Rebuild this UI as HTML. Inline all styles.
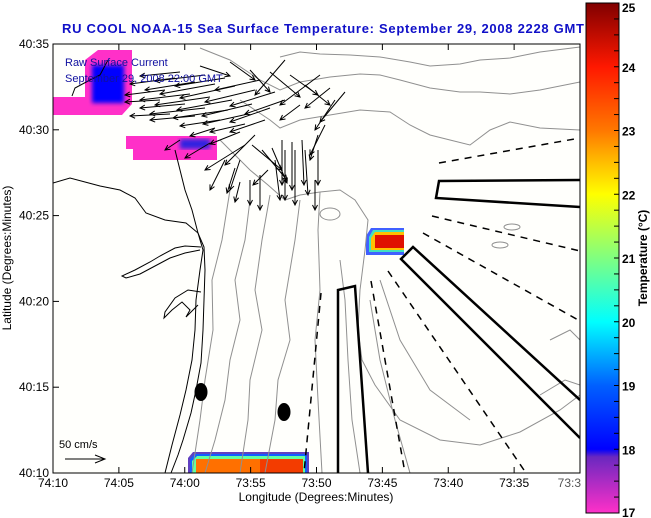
<!DOCTYPE html>
<html><head><meta charset="utf-8"><style>
html,body{margin:0;padding:0;background:#fff;width:651px;height:518px;overflow:hidden}
svg{display:block;font-family:"Liberation Sans",Arial,sans-serif}
</style></head><body>
<svg id="chart" width="651" height="518" viewBox="0 0 651 518">
<defs>
<linearGradient id="cmap" x1="0" y1="1" x2="0" y2="0">
<stop offset="0" stop-color="#ff30c8"/><stop offset="0.11" stop-color="#6a28c0"/>
<stop offset="0.125" stop-color="#0000ff"/><stop offset="0.25" stop-color="#0060ff"/>
<stop offset="0.375" stop-color="#00ffff"/><stop offset="0.5" stop-color="#80ff80"/>
<stop offset="0.625" stop-color="#ffff00"/><stop offset="0.7" stop-color="#ffb000"/>
<stop offset="0.75" stop-color="#ff7800"/><stop offset="0.875" stop-color="#ff1800"/>
<stop offset="1" stop-color="#800000"/>
</linearGradient>
<filter id="blur"><feGaussianBlur stdDeviation="2"/></filter>
<clipPath id="pclip"><rect x="53" y="44" width="527" height="429"/></clipPath>
</defs>
<text x="62" y="33" font-size="13" font-weight="bold" fill="#1010c8" textLength="522" lengthAdjust="spacing">RU COOL  NOAA-15  Sea Surface Temperature:  September 29, 2008 2228 GMT</text>
<rect x="53" y="44" width="527" height="429" fill="#fffffc"/>
<g clip-path="url(#pclip)">
<g>
<path d="M53,97 L85,97 L85,60 L98,50 L132,50 L132,104 L122,115 L53,115 Z" fill="#ff30c8"/>
<rect x="92" y="65" width="32" height="38" fill="#0000ff" filter="url(#blur)"/>
</g>
<g>
<path d="M126,136 L217,136 L217,160 L133,160 L133,149 L126,149 Z" fill="#ff30c8"/>
<rect x="180" y="139" width="30" height="10" fill="#3020e0" filter="url(#blur)"/>
</g>
<g>
<path d="M371,228 L404,228 L404,255 L366,255 L366,236 Z" fill="#4060ff"/>
<path d="M373,230 L404,230 L404,252 L369,252 L369,237 Z" fill="#40e0c0"/>
<path d="M375,232 L404,232 L404,250 L371,250 L371,238 Z" fill="#ffc000"/>
<rect x="375" y="235" width="29" height="13" fill="#e01000"/>
</g>
<g>
<path d="M193,452 L309,452 L309,473 L188,473 L188,458 Z" fill="#6040c0"/>
<path d="M195,454 L307,454 L307,473 L190,473 L190,459 Z" fill="#1060ff"/>
<path d="M197,456 L305,456 L305,473 L192,473 L192,461 Z" fill="#60ffa0"/>
<rect x="196" y="459" width="107" height="14" fill="#ff7000"/>
<rect x="260" y="459" width="43" height="14" fill="#f03000" opacity="0.8"/>
</g>
<g fill="none" stroke="#909090" stroke-width="1">
<path d="M280,57 L300,52 L320,54 L350,55 L380,57 L410,62 L430,66 L460,64 L480,60 L510,58 L540,52 L580,47"/>
<path d="M200,48 L230,60 L260,80 L280,90 L300,82 L330,77 L360,74 L380,75 L400,80 L430,88 L460,92 L480,92 L510,94 L540,90 L580,82"/>
<path d="M240,100 L270,120 L280,128 L300,120 L330,115 L360,110 L390,112 L410,125 L430,135 L450,140 L470,145 L490,130 L510,122 L540,128 L580,130"/>
<path d="M220,140 L250,170 L268,185 L285,200 L300,195 L320,192 L340,190 L355,200 L368,220 L365,250 L360,290 L358,330 L362,360 L375,385 L400,420 L440,440 L480,445 L520,432 L560,410 L580,395"/>
<path d="M230,190 L222,240 L212,280 L213,330 L205,380 L200,420 L192,473"/>
<path d="M250,200 L245,240 L235,280 L240,320 L230,360 L225,400 L215,440 L205,473"/>
<path d="M270,195 L262,240 L255,290 L262,330 L250,380 L248,420 L240,473"/>
<path d="M300,200 L295,240 L285,300 L290,340 L278,380 L275,420 L265,473"/>
<path d="M320,192 L318,230 L320,290 L315,340 L318,400 L322,473"/>
<path d="M340,260 L345,300 L348,360 L352,420 L360,473"/>
<path d="M370,300 L380,360 L395,420 L410,473"/>
<path d="M380,280 L400,340 L430,390 L470,420"/>
<path d="M550,340 L570,330 L580,340 M540,395 L565,380 L580,385"/>
<ellipse cx="330" cy="214" rx="10" ry="6"/>
<ellipse cx="512" cy="227" rx="8" ry="3"/><ellipse cx="500" cy="245" rx="8" ry="3"/>
</g>
<g fill="none" stroke="#000" stroke-width="1">
<path d="M53,183 L70,178 L85,182 L100,186 L120,190 L135,198 L146,213 L165,220 L186,223 L198,233 L204,247 L205,270 L204,300 L203,330 L201,363 L196,390 L191,413 L183,440 L178,455 L171,473"/>
<path d="M198,233 L203,250 L200,270 L196,300 L195,330 L192,360 L186,390 L180,415 L172,445 L165,473"/>
<path d="M201,247 L185,246 L175,248 L160,256 L150,262 L135,270 L122,276 L126,278 L140,274 L155,266 L170,258 L185,253 L200,250"/>
<path d="M201,292 L188,290 L175,298 L165,312 L164,318 L172,310 L182,302 L190,310 L186,317 L198,305"/>
<path d="M175,150 L180,170 L185,190 L192,210 L198,233"/>
<path d="M108,60 L100,75 L90,80 L75,88 L72,96"/>
</g>
<g fill="none" stroke="#000">
<path d="M580,180 L439,181 L436,198 L580,207" stroke-width="2.5"/>
<path d="M580,400 L413,247 L401,259 L580,438" stroke-width="2.5"/>
<path d="M338,473 L338,290 L355,286 L368,473" stroke-width="2.5"/>
<g stroke-width="1.5" stroke-dasharray="7,6">
<path d="M439,163 L580,138"/>
<path d="M432,216 L580,251"/>
<path d="M423,233 L580,321"/>
<path d="M388,271 L526,473"/>
<path d="M371,281 L405,473"/>
<path d="M321,293 L304,473"/>
</g>
</g>
<ellipse cx="201" cy="392" rx="6.5" ry="9" fill="#000"/>
<ellipse cx="284" cy="412" rx="6.5" ry="9" fill="#000"/>
<g id="arrows" stroke="#000" stroke-width="1" fill="none"></g>
<text x="65" y="66" font-size="11" fill="#1010a0">Raw Surface Current</text>
<text x="65" y="82" font-size="11" fill="#1010a0">September 29, 2008 22:00 GMT</text>
<text x="59" y="448" font-size="11" fill="#000">50 cm/s</text>
<path d="M65,459 L105,459 M95,455 L105,459 L95,463" stroke="#000" fill="none"/>
</g>
<rect x="53" y="44" width="527" height="429" fill="none" stroke="#000" stroke-width="1"/>
<g id="axes" font-size="12" fill="#000"></g>
<text x="316" y="501" font-size="12" text-anchor="middle">Longitude (Degrees:Minutes)</text>
<text transform="translate(11,258) rotate(-90)" font-size="12" text-anchor="middle">Latitude (Degrees:Minutes)</text>
<rect x="586" y="3" width="33" height="510" fill="url(#cmap)" stroke="#000" stroke-width="1"/>
<g id="cbar"></g>
<text transform="translate(647,258) rotate(-90)" font-size="12" font-weight="bold" text-anchor="middle">Temperature (°C)</text>
</svg>
<script>
var latTicks=["40:35","40:30","40:25","40:20","40:15","40:10"];
var latVals=[35,30,25,20,15,10];
var lonTicks=["74:10","74:05","74:00","73:55","73:50","73:45","73:40","73:35","73:3"];
var lonVals=[10,5,0,-5,-10,-15,-20,-25,-30];
var cbarTicks=[17,18,19,20,21,22,23,24,25];
var NS="http://www.w3.org/2000/svg";
function yLat(v){return 473-(v-10)*(429/25);}
function xLon(v){return 53+(10-v)*(527/40);}
function yT(t){return 513-(t-17)*(510/8);}
function mk(tag,attrs,parent){var e=document.createElementNS(NS,tag);for(var k in attrs)e.setAttribute(k,attrs[k]);parent.appendChild(e);return e;}
var ax=document.getElementById('axes');
latVals.forEach(function(v,i){var y=yLat(v);
var t=mk('line',{x1:53,x2:59,y1:y,y2:y,stroke:'#000'},ax);


var l=mk('text',{x:49,y:y+4,'text-anchor':'end'},ax);l.textContent=latTicks[i];


});
lonVals.forEach(function(v,i){var x=xLon(v);
var t=mk('line',{x1:x,x2:x,y1:473,y2:467,stroke:'#000'},ax);


var t2=mk('line',{x1:x,x2:x,y1:44,y2:50,stroke:'#000'},ax);


var l=mk('text',{x:x,y:487,'text-anchor':(i==lonVals.length-1?'end':'middle')},ax);l.textContent=lonTicks[i];
if(i==lonVals.length-1){l.setAttribute('x',581);l.setAttribute('fill','#555');}


});
var cb=document.getElementById('cbar');
for(var s=17;s<=25.001;s+=0.25){var y=yT(s);
var t=mk('line',{x1:614,x2:619,y1:y,y2:y,stroke:'#000'},cb);

}
cbarTicks.forEach(function(v){var y=yT(v);
var l=mk('text',{x:622,y:Math.min(Math.max(y+5,12),517),'font-size':12,'font-weight':'bold'},cb);l.textContent=v;

});
var vecs=[
[175,78,-45,6],[195,82,-50,8],[215,84,-55,10],[235,86,-55,12],[255,90,-50,12],[275,92,-45,14],
[165,90,-40,5],[190,94,-50,6],[210,97,-55,8],[232,100,-55,10],[252,104,-50,12],[270,108,-40,14],
[160,100,-35,2],[185,104,-45,4],[205,108,-55,6],[228,110,-55,8],[248,114,-45,10],[265,120,-35,12],
[170,114,-40,2],[195,116,-45,4],[220,120,-40,6],[245,124,-35,8],
[180,72,-40,4],[205,75,-50,6],[225,78,-50,8],[260,80,-45,10],[285,100,-40,14],
[200,66,30,10],[230,62,25,18],[250,70,20,22],[270,72,30,25],[290,75,28,20],[305,85,25,20],
[320,75,-40,30],[330,88,-25,20],[285,60,-30,35],[300,105,-20,15],
[215,128,-25,8],[240,132,-30,12],[180,140,-15,10],[210,143,-25,15],
[255,135,-30,30],[245,145,-40,25],[225,160,-15,30],[240,160,-10,30],
[252,145,30,25],[262,150,25,30],[272,148,15,35],[282,140,0,45],[292,142,0,48],[302,140,2,45],
[268,170,-15,15],[275,160,5,40],[285,150,0,50],[295,150,0,55],[305,150,3,45],[318,150,0,35],
[325,125,-15,30],[318,135,-8,25],[335,100,-20,30],[345,92,-25,30],
[315,180,0,30],[260,175,0,35],[250,180,0,25],[240,182,-5,20],[235,168,-8,25]
];
var g=document.getElementById('arrows');
vecs.forEach(function(v){var x=v[0],y=v[1],dx=v[2],dy=v[3];
var L=Math.sqrt(dx*dx+dy*dy),ux=dx/L,uy=dy/L,hx=x+dx,hy=y+dy,h=5;
var d='M'+x+','+y+' L'+hx+','+hy+' M'+(hx-h*ux+h*0.5*uy)+','+(hy-h*uy-h*0.5*ux)+' L'+hx+','+hy+' L'+(hx-h*ux-h*0.5*uy)+','+(hy-h*uy+h*0.5*ux);
var p=mk('path',{d:d},g);


});
</script>
</body></html>
